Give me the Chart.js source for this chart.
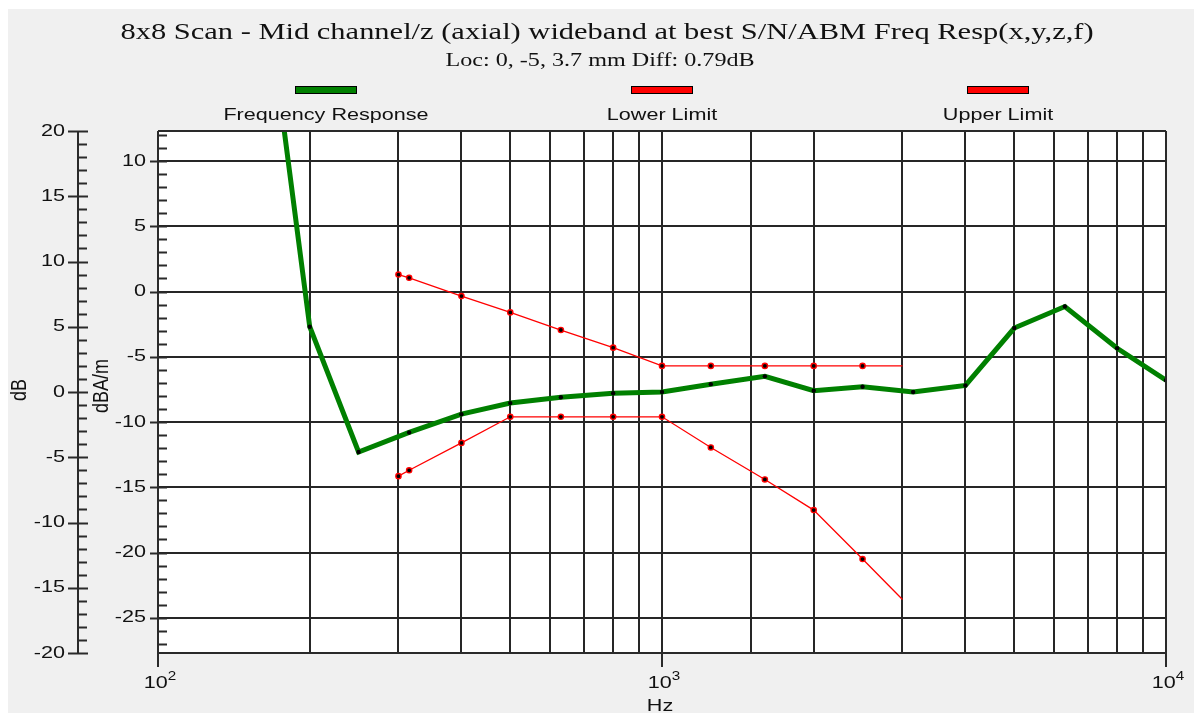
<!DOCTYPE html>
<html>
<head>
<meta charset="utf-8">
<title>Freq Resp</title>
<script src="https://cdn.jsdelivr.net/npm/chart.js@4.4.1/dist/chart.umd.min.js"></script>
<style>
  html, body { margin: 0; padding: 0; background: #ffffff; overflow: hidden; }
  #wrap { width: 1194px; height: 713px; position: relative; }
  canvas { display: block; }
</style>
</head>
<body>
<div id="wrap"><canvas id="chart" width="1194" height="713"></canvas></div>
<script>
// ---- chart text ----
const TITLE = '8x8 Scan - Mid channel/z (axial) wideband at best S/N/ABM Freq Resp(x,y,z,f)';
const SUBTITLE = 'Loc: 0, -5, 3.7 mm Diff: 0.79dB';
const seriesNames = ['Frequency Response', 'Lower Limit', 'Upper Limit'];
const xTitle = 'Hz';
const yTitleInner = 'dBA/m';
const yTitleOuter = 'dB';

// ---- measured response (dBA/m) at 1/3-octave centres ----
const responseHz = [160, 200, 250, 315, 400, 500, 630, 800, 1000, 1250, 1600, 2000, 2500, 3150, 4000, 5000, 6300, 8000, 10000];
const responseDBAm = [26.1, -2.7, -12.3, -10.8, -9.4, -8.55, -8.1, -7.8, -7.7, -7.1, -6.5, -7.6, -7.3, -7.7, -7.2, -2.8, -1.15, -4.35, -6.8];

// ---- tolerance mask (dBA/m) ----
const limitHz = [300, 315, 400, 500, 630, 800, 1000, 1250, 1600, 2000, 2500, 3000];
const lowerLimit = [-14.15, -13.7, -11.6, -9.6, -9.6, -9.6, -9.6, -11.95, -14.4, -16.75, -20.5, -23.6];
const upperLimit = [1.3, 1.05, -0.35, -1.6, -2.95, -4.3, -5.7, -5.7, -5.7, -5.7, -5.7, -5.7];

// ---- axis ticks ----
const dBAmTicks = [10, 5, 0, -5, -10, -15, -20, -25];
const dBTicks = [20, 15, 10, 5, 0, -5, -10, -15, -20];
const hzDecades = [100, 1000, 10000];

// ---- look ----
const STRETCH = 1.27;            // wide rendering of all text
const GRID = '#262626';
const PANEL = '#f0f0f0';
const SANS = '"Liberation Sans", Arial, sans-serif';
const SERIF = '"Liberation Serif", "Times New Roman", serif';

const toPoints = (xs, ys) => xs.map((x, i) => ({ x: x, y: ys[i] }));

function wideText(ctx, text, x, y, font, align, baseline, rotate) {
  ctx.save();
  ctx.font = font;
  ctx.textAlign = align;
  ctx.textBaseline = baseline;
  ctx.fillStyle = '#111';
  ctx.translate(x, y);
  ctx.scale(STRETCH, 1);
  if (rotate) ctx.rotate(-Math.PI / 2);
  ctx.fillText(text, 0, 0);
  ctx.restore();
}

function textWidth(ctx, text, font) {
  ctx.save();
  ctx.font = font;
  const w = ctx.measureText(text).width * STRETCH;
  ctx.restore();
  return w;
}

// panel background and white plot area
const backdrop = {
  id: 'backdrop',
  beforeDraw(chart) {
    const { ctx, chartArea: a, width, height } = chart;
    ctx.save();
    ctx.fillStyle = '#ffffff';
    ctx.fillRect(0, 0, width, height);
    ctx.fillStyle = PANEL;
    ctx.fillRect(8, 9, width - 8, height - 9);
    ctx.fillStyle = '#ffffff';
    ctx.fillRect(a.left, a.top, a.right - a.left, a.bottom - a.top);
    ctx.restore();
  }
};

// axes with minor ticks, tick labels, titles and the legend row
const decor = {
  id: 'decor',
  afterDraw(chart) {
    const { ctx, chartArea: a } = chart;
    const x = chart.scales.x, yIn = chart.scales.y, yOut = chart.scales.yDB;
    const tickFont = '17px ' + SANS;

    ctx.save();
    ctx.strokeStyle = '#2a2a2a';
    ctx.lineWidth = 2;

    // plot frame
    ctx.beginPath();
    ctx.moveTo(a.left, a.top); ctx.lineTo(a.right, a.top);
    ctx.moveTo(a.right, a.top); ctx.lineTo(a.right, a.bottom);
    ctx.moveTo(a.left, a.bottom); ctx.lineTo(a.right, a.bottom);
    ctx.stroke();

    // inner axis (dBA/m)
    const xi = a.left;
    ctx.beginPath();
    ctx.moveTo(xi, a.top); ctx.lineTo(xi, a.bottom + 14);
    for (let v = Math.ceil(yIn.min); v <= Math.floor(yIn.max); v++) {
      const py = Math.round(yIn.getPixelForValue(v)) + 0.5;
      if (v % 5 === 0) { ctx.moveTo(xi - 8, py); ctx.lineTo(xi + 9, py); }
      else { ctx.moveTo(xi, py); ctx.lineTo(xi + 9, py); }
    }
    ctx.stroke();

    // outer axis (dB)
    const xo = yOut.right;
    ctx.beginPath();
    ctx.moveTo(xo, yOut.getPixelForValue(yOut.max)); ctx.lineTo(xo, yOut.getPixelForValue(yOut.min));
    for (let v = yOut.min; v <= yOut.max; v++) {
      const py = Math.round(yOut.getPixelForValue(v)) + 0.5;
      if (v % 5 === 0) { ctx.moveTo(xo - 10, py); ctx.lineTo(xo + 10, py); }
      else { ctx.moveTo(xo, py); ctx.lineTo(xo + 9, py); }
    }
    ctx.stroke();

    // decade ticks below the frequency axis
    ctx.beginPath();
    hzDecades.forEach(f => {
      const px = Math.round(x.getPixelForValue(f));
      ctx.moveTo(px, a.bottom); ctx.lineTo(px, a.bottom + 14);
    });
    ctx.stroke();
    ctx.restore();

    // tick labels
    yIn.ticks.forEach(t => wideText(ctx, String(t.value), xi - 12, yIn.getPixelForValue(t.value), tickFont, 'right', 'middle'));
    yOut.ticks.forEach(t => wideText(ctx, String(t.value), xo - 13, yOut.getPixelForValue(t.value), tickFont, 'right', 'middle'));
    const supFont = '12px ' + SANS;
    hzDecades.forEach(f => {
      const exp = String(Math.round(Math.log10(f)));
      const w1 = textWidth(ctx, '10', tickFont), w2 = textWidth(ctx, exp, supFont);
      const left = x.getPixelForValue(f) - (w1 + w2) / 2 + 2;
      wideText(ctx, '10', left, a.bottom + 35, tickFont, 'left', 'alphabetic');
      wideText(ctx, exp, left + w1, a.bottom + 27, supFont, 'left', 'alphabetic');
    });

    // axis titles
    wideText(ctx, xTitle, x.getPixelForValue(1000) - 2, 711, '17px ' + SANS, 'center', 'alphabetic');
    const midY = (a.top + a.bottom) / 2;
    wideText(ctx, yTitleOuter, 20, midY - 2, '18px ' + SANS, 'center', 'middle', true);
    wideText(ctx, yTitleInner, 102, midY - 6, '18px ' + SANS, 'center', 'middle', true);

    // title and subtitle
    wideText(ctx, TITLE, 607, 39, '24px ' + SERIF, 'center', 'alphabetic');
    wideText(ctx, SUBTITLE, 600, 66, '19px ' + SERIF, 'center', 'alphabetic');

    // legend: swatch above each name, spread over the plot width
    const n = chart.data.datasets.length;
    const slot = (a.right - a.left) / n;
    chart.data.datasets.forEach((ds, i) => {
      const cx = a.left + slot * (i + 0.5);
      ctx.save();
      ctx.fillStyle = ds.borderColor;
      ctx.fillRect(cx - 31, 86, 62, 8);
      ctx.strokeStyle = '#000';
      ctx.lineWidth = 1;
      ctx.strokeRect(cx - 31 + 0.5, 86 + 0.5, 61, 7);
      ctx.restore();
      wideText(ctx, ds.label, cx, 120, '17px ' + SANS, 'center', 'alphabetic');
    });
  }
};

const lastMarkerHidden = c => (c.dataIndex === c.dataset.data.length - 1 ? 0 : 2.6);

new Chart(document.getElementById('chart').getContext('2d'), {
  type: 'line',
  data: {
    datasets: [
      {
        label: seriesNames[0],
        data: toPoints(responseHz, responseDBAm),
        yAxisID: 'y',
        borderColor: '#008000',
        borderWidth: 5,
        pointRadius: 2.2,
        pointBackgroundColor: '#000',
        pointBorderWidth: 0,
        tension: 0,
        clip: 0
      },
      {
        label: seriesNames[1],
        data: toPoints(limitHz, lowerLimit),
        yAxisID: 'y',
        borderColor: '#ff0000',
        borderWidth: 1.3,
        pointRadius: lastMarkerHidden,
        pointBackgroundColor: '#000',
        pointBorderColor: '#ff0000',
        pointBorderWidth: 1.4,
        tension: 0,
        clip: 0
      },
      {
        label: seriesNames[2],
        data: toPoints(limitHz, upperLimit),
        yAxisID: 'y',
        borderColor: '#ff0000',
        borderWidth: 1.3,
        pointRadius: lastMarkerHidden,
        pointBackgroundColor: '#000',
        pointBorderColor: '#ff0000',
        pointBorderWidth: 1.4,
        tension: 0,
        clip: 0
      }
    ]
  },
  options: {
    responsive: false,
    animation: false,
    devicePixelRatio: 1,
    layout: { padding: { top: 131, right: 28, bottom: 0, left: 0 } },
    plugins: {
      legend: { display: false },
      title: { display: false },
      tooltip: { enabled: false }
    },
    scales: {
      x: {
        type: 'logarithmic',
        min: 100,
        max: 10000,
        position: 'bottom',
        ticks: { display: false },
        grid: { color: GRID, lineWidth: 2, drawTicks: false },
        border: { display: false },
        afterFit(s) { s.height = 60; }
      },
      y: {
        position: 'left',
        weight: 0,
        min: -27.7,
        max: 12.3,
        afterBuildTicks(s) { s.ticks = dBAmTicks.map(v => ({ value: v })); },
        ticks: { display: false },
        grid: { color: GRID, lineWidth: 2, drawTicks: false },
        border: { display: false },
        afterFit(s) { s.width = 80; }
      },
      yDB: {
        position: 'left',
        weight: 1,
        min: -20,
        max: 20,
        afterBuildTicks(s) { s.ticks = dBTicks.map(v => ({ value: v })); },
        ticks: { display: false },
        grid: { display: false, drawTicks: false },
        border: { display: false },
        afterFit(s) { s.width = 78; }
      }
    }
  },
  plugins: [backdrop, decor]
});
</script>
</body>
</html>
